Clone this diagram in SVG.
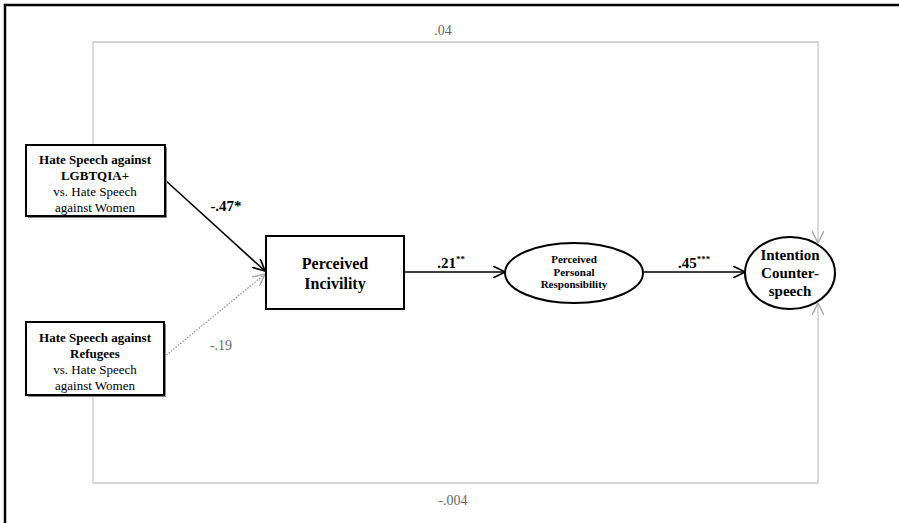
<svg xmlns="http://www.w3.org/2000/svg" width="899" height="523" viewBox="0 0 899 523">
<defs>
<marker id="ah" markerWidth="12" markerHeight="12" refX="10" refY="5" orient="auto" markerUnits="userSpaceOnUse" viewBox="0 0 10 10">
<path d="M0,0 L10,5 L0,10" fill="none" stroke="#000" stroke-width="1.4"/>
</marker>
<marker id="ahg" markerWidth="12" markerHeight="12" refX="10" refY="5" orient="auto" markerUnits="userSpaceOnUse" viewBox="0 0 10 10">
<path d="M0,0 L10,5 L0,10" fill="none" stroke="#aaa" stroke-width="1.2"/>
</marker>
</defs>
<style>
text{font-family:"Liberation Serif","Times New Roman",serif;text-anchor:middle;fill:#000}
.b{font-weight:bold}
.g{fill:#666}
.box{fill:#fff;stroke:#000;stroke-width:2}
.sh{fill:#888}
.edge{fill:none;stroke:#000;stroke-width:1.6}
.gl{fill:none;stroke:#c8c8c8;stroke-width:1.3}
.dot{fill:none;stroke:#999;stroke-width:1.3;stroke-dasharray:1.5 1.5}
</style>
<rect width="899" height="523" fill="#fff"/>
<g id="frame">
<line x1="4" y1="5" x2="899" y2="5" stroke="#000" stroke-width="2.5"/>
<line x1="5" y1="4" x2="5" y2="523" stroke="#000" stroke-width="2.5"/>
</g>
<g id="connectors">
<path class="gl" d="M93,145 V42 H818 V243" marker-end="url(#ahg)"/>
<path class="gl" d="M93,396 V483 H818 V303" marker-end="url(#ahg)"/>
<line class="edge" x1="165" y1="180" x2="265" y2="271" marker-end="url(#ah)"/>
<line class="dot" x1="164" y1="357" x2="265" y2="274" marker-end="url(#ahg)"/>
<line class="edge" x1="404" y1="272" x2="505" y2="272" marker-end="url(#ah)"/>
<line class="edge" x1="643" y1="272" x2="745" y2="272" marker-end="url(#ah)"/>
<text x="443" y="35" font-size="14" class="g">.04</text>
<text x="453" y="505" font-size="14" class="g">-.004</text>
<text x="226" y="211" font-size="15" class="b">-.47*</text>
<text x="221" y="350" font-size="14" class="g">-.19</text>
<text x="451" y="268" font-size="15" class="b">.21<tspan font-size="9" dy="-6">**</tspan></text>
<text x="694" y="268" font-size="15" class="b">.45<tspan font-size="9" dy="-6">***</tspan></text>
</g>
<g id="n-lgbt">
<rect class="sh" x="28" y="147" width="139" height="71"/>
<rect class="box" x="26" y="145" width="139" height="71"/>
<text x="95" y="164" font-size="13" class="b">Hate Speech against</text>
<text x="95" y="180" font-size="13" class="b">LGBTQIA+</text>
<text x="95" y="196" font-size="13">vs. Hate Speech</text>
<text x="95" y="212" font-size="13">against Women</text>
</g>
<g id="n-refugees">
<rect class="sh" x="28" y="324" width="138" height="73"/>
<rect class="box" x="26" y="322" width="138" height="73"/>
<text x="95" y="342" font-size="13" class="b">Hate Speech against</text>
<text x="95" y="358" font-size="13" class="b">Refugees</text>
<text x="95" y="374" font-size="13">vs. Hate Speech</text>
<text x="95" y="390" font-size="13">against Women</text>
</g>
<g id="n-incivility">
<rect class="box" x="266" y="236" width="138" height="73"/>
<text x="335" y="269" font-size="16" class="b">Perceived</text>
<text x="335" y="289" font-size="16" class="b">Incivility</text>
</g>
<g id="n-responsibility">
<ellipse class="box" cx="574" cy="273" rx="69" ry="30"/>
<text x="574" y="263" font-size="11" class="b">Perceived</text>
<text x="574" y="276" font-size="11" class="b">Personal</text>
<text x="574" y="288" font-size="11" class="b">Responsibility</text>
</g>
<g id="n-intention">
<ellipse class="box" cx="790" cy="273" rx="45" ry="36"/>
<text x="790" y="260" font-size="15" class="b">Intention</text>
<text x="790" y="278" font-size="15" class="b">Counter-</text>
<text x="790" y="296" font-size="15" class="b">speech</text>
</g>
</svg>
